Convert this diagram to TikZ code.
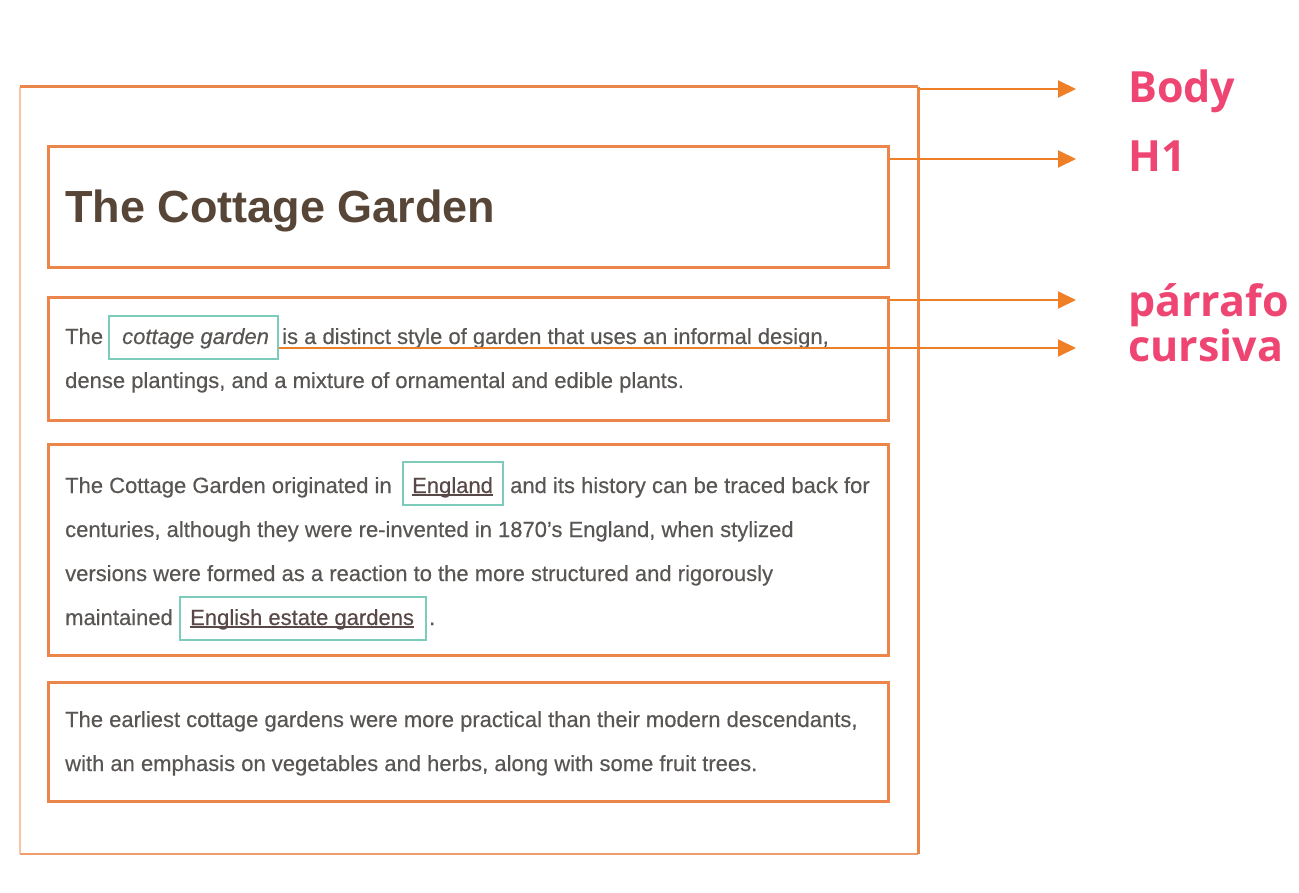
\documentclass[tikz,border=0pt]{standalone}
\usepackage{fontspec}
\setmainfont{Liberation Sans}
\newfontfamily\bodyfont{Liberation Sans}[FakeBold=0.35]
\newfontfamily\labelfont{Open Sans}
\usetikzlibrary{arrows.meta,calc}
\definecolor{frame}{HTML}{EC8549}
\definecolor{framelight}{HTML}{F8C4A2}
\definecolor{arr}{HTML}{EF7F27}
\definecolor{cyanbox}{HTML}{7CCBBB}
\definecolor{lblcol}{HTML}{EE4572}
\definecolor{txtgray}{HTML}{585553}
\definecolor{ttl}{HTML}{574637}
\definecolor{lnk}{HTML}{584948}
\newcommand\myul[1]{\setbox0\hbox{#1}\rlap{\rule[-2.6pt]{\wd0}{1.4pt}}\box0}
\tikzset{
  pbox/.style={draw=frame, line width=3pt, minimum width=840pt, inner sep=0pt},
  cbox/.style={draw=cyanbox, line width=2.6pt, minimum height=43pt, inner sep=0pt},
  txt/.style={font=\bodyfont\fontsize{22}{26}\selectfont, text=txtgray, inner sep=0pt, anchor=base west},
  lnktxt/.style={txt, text=lnk},
  arrowline/.style={draw=arr, line width=2pt, -{Triangle[length=18pt,width=17pt]}},
  lbl/.style={font=\labelfont\bfseries\fontsize{43}{50}\selectfont, text=lblcol, inner sep=0pt, anchor=base west}
}
\begin{document}
\begin{tikzpicture}[x=1pt,y=-1pt]
\useasboundingbox (0,0) rectangle (1299,893);
\fill[white] (0,0) rectangle (1299,893);
% body box
\node[minimum width=898pt, minimum height=767pt, inner sep=0pt] (body) at (469,470.5) {};
\draw[framelight, line width=2.2pt] (body.north west) -- (body.south west);
\draw[frame!80!white, line width=2.4pt] (body.south west) -- (body.south east);
\draw[frame, line width=2.6pt] (body.south east) -- (body.north east);
\draw[frame, line width=3.2pt] (body.north east) -- (body.north west);
% inner boxes
\node[pbox, minimum height=121pt] (h1) at (468,207.5) {};
\node[pbox, minimum height=122pt] (p1) at (468,359) {};
\node[pbox, minimum height=211pt] (p2) at (468,549.5) {};
\node[pbox, minimum height=119pt] (p3) at (468,741.5) {};
\node[cbox, minimum width=169pt] (cg) at (193.5,337.5) {};
\node[cbox, minimum width=100pt] (eng) at (453,483.5) {};
\node[cbox, minimum width=246pt] (eeg) at (303,618.5) {};
% title
\node[inner sep=0pt, anchor=base west, text=ttl, font=\bfseries\fontsize{45}{50}\selectfont] (title) at (65,223) {The Cottage Garden};
% paragraph 1
\node[txt] (t1a) at (65,344) {The};
\node[txt, font=\bodyfont\itshape\fontsize{22}{26}\selectfont] (t1b) at (122,344) {cottage garden};
\node[txt] (t1c) at (282,344) {is a distinct style of garden that uses an informal design,};
\node[txt] (t1d) at (65,388) {dense plantings, and a mixture of ornamental and edible plants.};
% paragraph 2
\node[txt] (t2a) at (65,493) {The Cottage Garden originated in};
\node[lnktxt] (t2b) at (412,493) {\myul{England}};
\node[txt] (t2c) at (510,493) {and its history can be traced back for};
\node[txt] (t2d) at (65,537) {centuries, although they were re-invented in 1870’s England, when stylized};
\node[txt] (t2e) at (65,581) {versions were formed as a reaction to the more structured and rigorously};
\node[txt] (t2f) at (65,625) {maintained};
\node[lnktxt] (t2g) at (190,625) {\myul{English estate gardens}};
\node[txt] (t2h) at (429,625) {.};
% paragraph 3
\node[txt] (t3a) at (65,727) {The earliest cottage gardens were more practical than their modern descendants,};
\node[txt] (t3b) at (65,771) {with an emphasis on vegetables and herbs, along with some fruit trees.};
% labels
\node[lbl] (lbody) at (1128,103) {Body};
\node[lbl] (lh1) at (1128,172) {H1};
\node[lbl] (lpar) at (1128,317) {párrafo};
\node[lbl] (lcur) at (1128,362) {cursiva};
% arrow ends
\coordinate (tb) at (1076,89);
\coordinate (th) at (1076,159);
\coordinate (tp) at (1076,300);
\coordinate (tc) at (1076,348);
\draw[arrowline] (tb -| body.east) -- (tb);
\draw[arrowline] (th -| h1.east) -- (th);
\draw[arrowline] (tp -| p1.east) -- (tp);
\draw[arrowline] (tc -| cg.east) -- (tc);
\end{tikzpicture}
\end{document}
